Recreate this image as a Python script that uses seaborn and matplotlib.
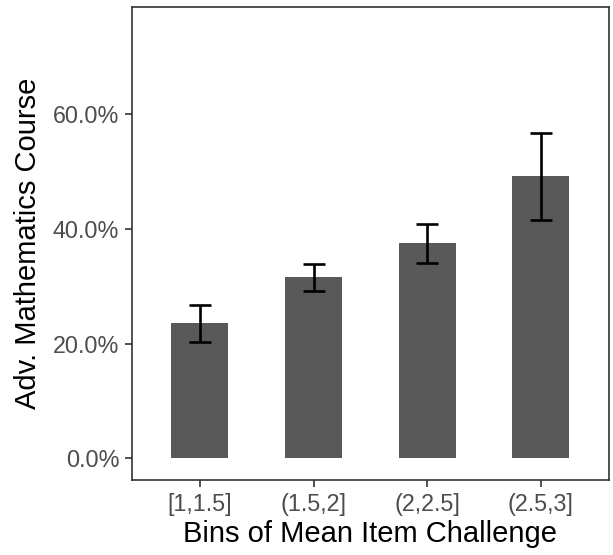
import matplotlib
matplotlib.use("Agg")
import matplotlib.pyplot as plt
import seaborn as sns
import pandas as pd
from matplotlib.ticker import PercentFormatter

# Share taking an advanced mathematics course, by bin of mean item challenge
bins = ["[1,1.5]", "(1.5,2]", "(2,2.5]", "(2.5,3]"]
share = [0.236, 0.316, 0.375, 0.492]
ci_low = [0.203, 0.292, 0.340, 0.416]
ci_high = [0.268, 0.339, 0.408, 0.567]

df = pd.DataFrame({"bin": bins, "share": share, "lo": ci_low, "hi": ci_high})

sns.set_theme(style="white")
plt.rcParams["font.family"] = ["Liberation Sans", "DejaVu Sans"]

fig = plt.figure(figsize=(6.13, 5.55), dpi=100)
ax = fig.add_axes([131.7 / 613, 1 - 480 / 555, (609 - 131.7) / 613, (480 - 6.7) / 555])

sns.barplot(data=df, x="bin", y="share", color="#595959", width=0.5,
            errorbar=None, saturation=1, ax=ax, edgecolor="none")

xpos = range(len(bins))
ax.errorbar(xpos, df["share"],
            yerr=[df["share"] - df["lo"], df["hi"] - df["share"]],
            fmt="none", ecolor="black", elinewidth=1.9, capsize=8, capthick=1.9)

ax.set_xlim(-0.6, 3.6)
ax.set_ylim(-0.0375, 0.7875)
ax.set_yticks([0, 0.2, 0.4, 0.6])
ax.yaxis.set_major_formatter(PercentFormatter(1.0, decimals=1))

ax.set_xlabel("Bins of Mean Item Challenge", fontsize=21, color="black", labelpad=3)
ax.set_ylabel("Adv. Mathematics Course", fontsize=21, color="black", labelpad=8)

ax.tick_params(axis="both", which="major", length=5, width=1.2, color="#333333",
               labelsize=16.8, labelcolor="#4D4D4D", pad=4, left=True, bottom=True)

for s in ax.spines.values():
    s.set_visible(True)
    s.set_color("#333333")
    s.set_linewidth(1.2)

ax.grid(False)
fig.savefig("out.png", dpi=100)
